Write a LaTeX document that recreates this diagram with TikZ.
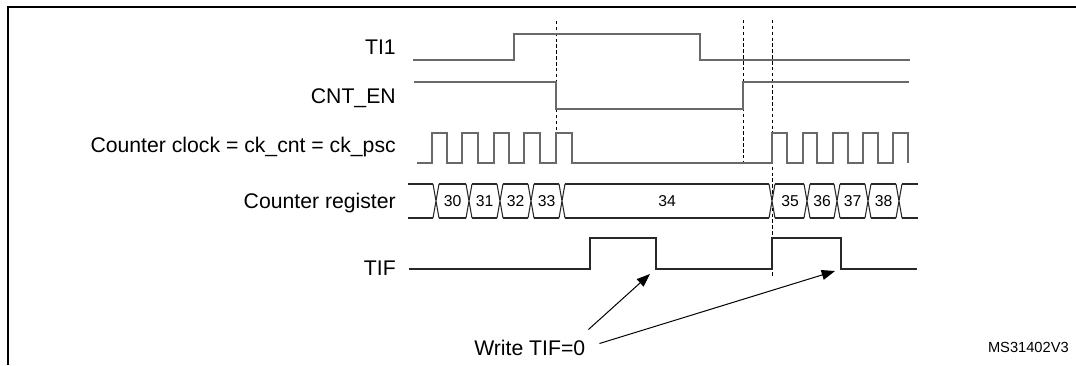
\documentclass[tikz,border=0pt]{standalone}
\usepackage{fontspec}
\setmainfont{Liberation Sans}
\usetikzlibrary{arrows.meta}
\definecolor{wavegray}{RGB}{105,105,105}
\definecolor{busdark}{RGB}{40,40,40}
\begin{document}
\begin{tikzpicture}[x=0.75pt,y=-0.75pt,
  wave/.style={draw=wavegray, line width=1.1pt, line join=miter},
  bus/.style={draw=busdark, line width=0.8pt},
  siglabel/.style={font=\fontsize{15.9}{18}\selectfont, anchor=base east, inner sep=0pt},
  numlabel/.style={font=\fontsize{11.8}{14}\selectfont, inner sep=0pt},
  guide/.style={draw=black, line width=0.7pt, dash pattern=on 2.6pt off 1.8pt},
  framebox/.style={draw=black, line width=2pt},
  callout/.style={draw=black, line width=0.75pt, -{Triangle[length=10pt,width=7.5pt]}}
]
\useasboundingbox (0,0) rectangle (1076,365);

% frame (cropped)
\draw[framebox] (8,365) -- (8,7) -- (1076,7);

% signal labels
\node[siglabel] (lti) at (396,54.5) {TI1};
\node[siglabel] (len) at (396,103.5) {CNT\_EN};
\node[siglabel] (lck) at (396,152.5) {Counter clock = ck\_cnt = ck\_psc};
\node[siglabel] (lreg) at (396,208) {Counter register};
\node[siglabel] (ltif) at (396,275.3) {TIF};

% guide lines
\draw[guide] (556,21) -- (556,164);
\draw[guide] (743,20) -- (743,164);
\draw[guide] (772,20) -- (772,276);

% TI1
\draw[wave] (413,60) -- (514,60) -- (514,34) -- (700,34) -- (700,60) -- (910,60);
% CNT_EN
\draw[wave] (414,82) -- (556,82) -- (556,109) -- (743,109) -- (743,82) -- (909,82);
% counter clock
\draw[wave] (417,163) -| (432,133) -| (447,163) -| (462,133) -| (478,163)
  -| (494,133) -| (509,163) -| (524,133) -| (540,163) -| (556,133) -| (572,163)
  -| (772,133) -| (787,163) -| (803,133) -| (817,163) -| (833,133) -| (848,163)
  -| (863,133) -| (878,163) -| (893,133) -| (908,163);

% counter register
\foreach \a/\b in {408/433,439/466,472/497,503/528,534/559,565/769,775/804,810/834,840/865,871/896,902/918}
  \draw[bus] (\a,184) -- (\b,184) (\a,218) -- (\b,218);
\foreach \c in {436,469,500,531,562,772,807,837,868,899}
  \draw[bus] (\c-3,184) -- (\c+3,218) (\c-3,218) -- (\c+3,184);
\node[numlabel] (v30) at (452.5,201) {30};
\node[numlabel] (v31) at (484.5,201) {31};
\node[numlabel] (v32) at (515.5,201) {32};
\node[numlabel] (v33) at (546.5,201) {33};
\node[numlabel] (v34) at (667,201) {34};
\node[numlabel] (v35) at (790,201) {35};
\node[numlabel] (v36) at (822,201) {36};
\node[numlabel] (v37) at (852.5,201) {37};
\node[numlabel] (v38) at (883.5,201) {38};

% TIF
\draw[bus] (409,269) -- (590,269) -- (590,238) -- (656,238) -- (656,269) -- (772,269)
  -- (772,238) -- (841,238) -- (841,269) -- (917,269);

% Write TIF=0 callout
\node[font=\fontsize{15.9}{18}\selectfont, anchor=base west, inner sep=0pt] (wt) at (474,355.5) {Write TIF=0};
\coordinate (tail1) at ([shift={(3,-26)}]wt.base east);
\coordinate (tail2) at ([shift={(14,-12)}]wt.base east);
\coordinate (tip1) at (650,274);
\coordinate (tip2) at (835,271);
\draw[callout] (tail1) -- (tip1);
\draw[callout] (tail2) -- (tip2);

% figure id
\node[font=\fontsize{11}{13}\selectfont, anchor=base east, inner sep=0pt] (fid) at (1069,352) {MS31402V3};
\end{tikzpicture}
\end{document}
